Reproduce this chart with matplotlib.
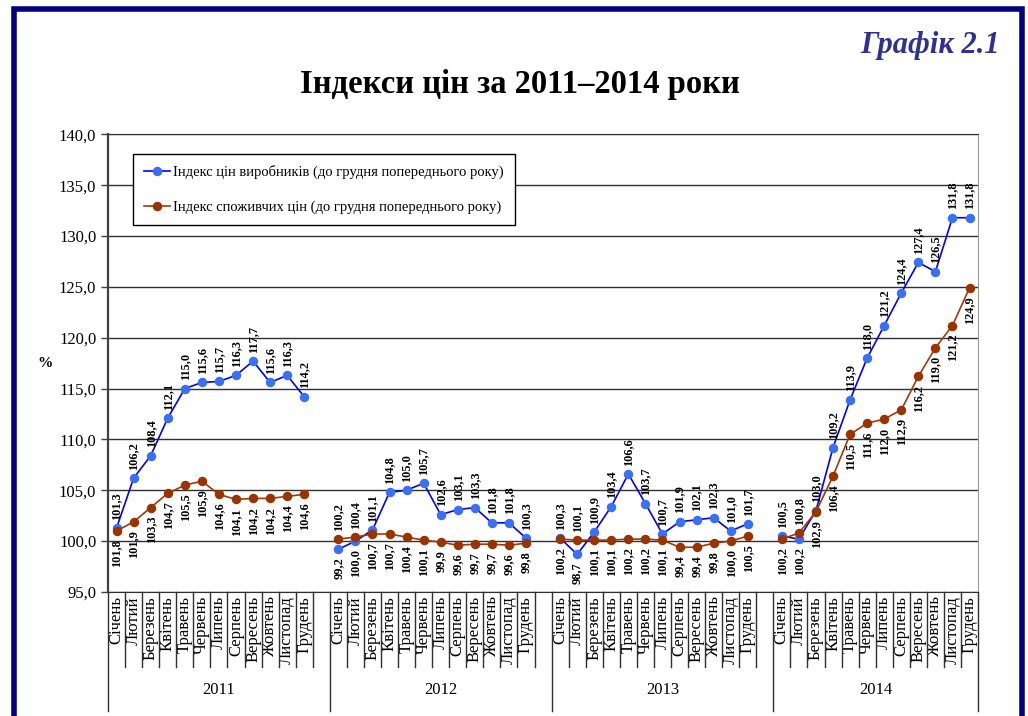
import numpy as np
import matplotlib
matplotlib.use("Agg")
import matplotlib.pyplot as plt
from matplotlib.patches import Rectangle

plt.rcParams['font.family'] = ['Liberation Serif', 'DejaVu Serif']

years = ['2011', '2012', '2013', '2014']
months = ['Січень', 'Лютий', 'Березень', 'Квітень', 'Травень', 'Червень',
          'Липень', 'Серпень', 'Вересень', 'Жовтень', 'Листопад', 'Грудень']

# producer price index (to December of previous year)
ppi_2011 = [101.3, 106.2, 108.4, 112.1, 115.0, 115.6, 115.7, 116.3, 117.7, 115.6, 116.3, 114.2]
ppi_2012 = [99.2, 100.0, 101.1, 104.8, 105.0, 105.7, 102.6, 103.1, 103.3, 101.8, 101.8, 100.3]
ppi_2013 = [100.3, 98.7, 100.9, 103.4, 106.6, 103.7, 100.7, 101.9, 102.1, 102.3, 101.0, 101.7]
ppi_2014 = [100.5, 100.2, 103.0, 109.2, 113.9, 118.0, 121.2, 124.4, 127.4, 126.5, 131.8, 131.8]

# consumer price index (to December of previous year)
cpi_2011 = [101.0, 101.9, 103.3, 104.7, 105.5, 105.9, 104.6, 104.1, 104.2, 104.2, 104.4, 104.6]
cpi_2012 = [100.2, 100.4, 100.7, 100.7, 100.4, 100.1, 99.9, 99.6, 99.7, 99.7, 99.6, 99.8]
cpi_2013 = [100.2, 100.1, 100.1, 100.1, 100.2, 100.2, 100.1, 99.4, 99.4, 99.8, 100.0, 100.5]
cpi_2014 = [100.2, 100.8, 102.9, 106.4, 110.5, 111.6, 112.0, 112.9, 116.2, 119.0, 121.2, 124.9]

ppi_name = 'Індекс цін виробників (до грудня попереднього року)'
cpi_name = 'Індекс споживчих цін (до грудня попереднього року)'


def join_years(parts):
    # one empty category between years, like the source chart
    out = []
    for k, p in enumerate(parts):
        out += p
        if k < len(parts) - 1:
            out.append(np.nan)
    return np.array(out)


def fmt(v):
    return f"{v:.1f}".replace('.', ',')


ppi = join_years([ppi_2011, ppi_2012, ppi_2013, ppi_2014])
cpi = join_years([cpi_2011, cpi_2012, cpi_2013, cpi_2014])
x = np.arange(len(ppi))

cat_labels = []
for k in range(len(years)):
    cat_labels += months
    if k < len(years) - 1:
        cat_labels.append('')

ppi_labels = [fmt(v) for v in ppi]
cpi_labels = [fmt(v) for v in cpi]
cpi_labels[0] = '101,8'  # the source prints this label for the first point

fig = plt.figure(figsize=(10.28, 7.16), dpi=100)
ax = fig.add_axes([0.1051, 0.1732, 0.8463, 0.6392])

blue_line, blue_mark = '#0000FF', '#3A70F5'
brown_line, brown_mark = '#A03808', '#993300'

ax.plot(x, ppi, color=blue_line, lw=1.2, marker='o', ms=5.8,
        mfc=blue_mark, mec=blue_mark, label=ppi_name, zorder=3)
ax.plot(x, cpi, color=brown_line, lw=1.2, marker='o', ms=5.8,
        mfc=brown_mark, mec=brown_mark, label=cpi_name, zorder=3)

# data labels: the higher value of the pair above, the lower below
for i in x:
    if np.isnan(ppi[i]):
        continue
    if ppi[i] >= cpi[i]:
        pairs = [(ppi[i], ppi_labels[i], 1), (cpi[i], cpi_labels[i], -1)]
    else:
        pairs = [(cpi[i], cpi_labels[i], 1), (ppi[i], ppi_labels[i], -1)]
    for v, txt, side in pairs:
        ax.annotate(txt, (i, v), xytext=(0, 6 * side), textcoords='offset points',
                    rotation=90, ha='center', va='bottom' if side > 0 else 'top',
                    fontsize=8.8, fontweight='bold', zorder=4)

ax.set_xlim(-0.5, len(x) - 0.5)
ax.set_ylim(95, 140)
ax.set_yticks(np.arange(95, 141, 5))
ax.set_yticklabels([fmt(v) for v in np.arange(95, 141, 5)], fontsize=12)
ax.tick_params(axis='y', direction='out', length=5, width=1, color='#404040')
ax.yaxis.grid(True, color='#303030', lw=1)
ax.set_axisbelow(True)

ax.set_xticks(x)
ax.set_xticklabels(cat_labels, rotation=90, fontsize=12)
ax.tick_params(axis='x', length=0, pad=3)

ax.spines['left'].set_color('#404040')
ax.spines['left'].set_linewidth(1.6)
ax.spines['bottom'].set_color('#303030')
ax.spines['top'].set_color('#303030')
ax.spines['right'].set_color('#9a9a9a')

# category boxes and year separators below the axis
trans = ax.get_xaxis_transform()
group_edges = [-0.5, 12.5, 25.5, 38.5, len(x) - 0.5]
for b in np.arange(-0.5, len(x), 1.0):
    if b in group_edges:
        ax.plot([b, b], [0, -0.26], transform=trans, color='#303030', lw=1, clip_on=False)
    else:
        ax.plot([b, b], [0, -0.164], transform=trans, color='#303030', lw=1, clip_on=False)
for k, yr in enumerate(years):
    mid = (group_edges[k] + group_edges[k + 1]) / 2
    ax.text(mid, -0.214, yr, transform=trans, ha='center', va='center', fontsize=12)

ax.text(-0.072, 0.5, '%', transform=ax.transAxes, ha='center', va='center',
        fontsize=11, fontweight='bold')

ax.legend(loc='upper left', bbox_to_anchor=(0.0287, 0.957), borderaxespad=0,
          fontsize=10.5, frameon=True, fancybox=False, framealpha=1,
          edgecolor='black', borderpad=0.75, labelspacing=1.5,
          handlelength=1.8, handletextpad=0.2)

fig.text(0.506, 1 - 84 / 716, 'Індекси цін за 2011–2014 роки', ha='center', va='center',
         fontsize=23.5, fontweight='bold')
fig.text(0.973, 1 - 46 / 716, 'Графік 2.1', ha='right', va='center', fontsize=22,
         fontweight='bold', style='italic', color='#2E3192')

# navy page frame
fig.patches.append(Rectangle((13.5 / 1028, -0.05), (1022 - 13.5) / 1028, 1.05 - 8.5 / 716,
                             transform=fig.transFigure, fill=False,
                             edgecolor='#000080', lw=4))

fig.savefig("out.png", dpi=100)
